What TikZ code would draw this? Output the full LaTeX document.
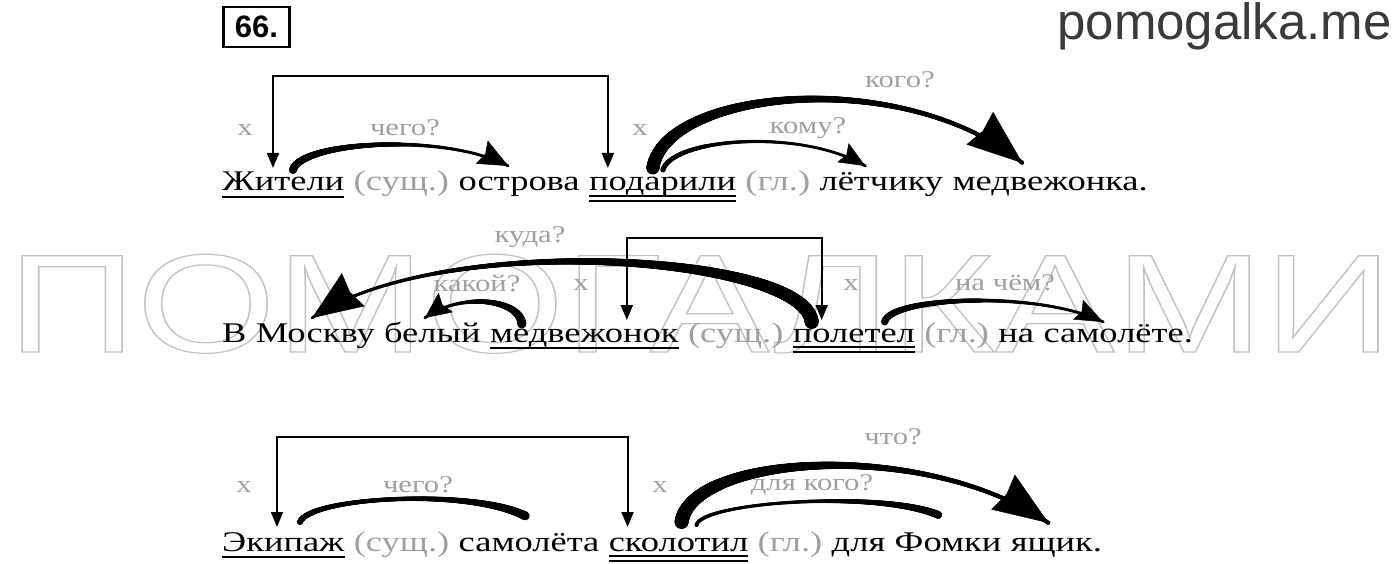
\documentclass[tikz,border=0pt]{standalone}
\usepackage{fontspec}
\setmainfont[FakeStretch=1.28]{Liberation Serif}
\newfontfamily\wmfont{Liberation Sans}
\usetikzlibrary{arrows.meta,decorations.markings,calc}
\definecolor{lbl}{RGB}{160,160,160}
\definecolor{site}{RGB}{58,58,58}
\definecolor{wm}{RGB}{195,195,195}
\tikzset{
  word/.style={inner sep=0pt, anchor=base west, font=\fontsize{28.5}{34}\selectfont},
  gw/.style={word, text=lbl},
  lab/.style={inner sep=0pt, text=lbl, font=\fontsize{24}{28}\selectfont},
  ul/.style={line width=2pt},
  brk/.style={line width=2pt, {Triangle[length=15pt,width=12pt]}-{Triangle[length=15pt,width=12pt]}},
  taper/.style n args={3}{
    postaction={decorate},
    decoration={markings,
      mark=between positions 0 and 1 step 0.5pt with {
        \pgfmathsetmacro\tapt{\pgfkeysvalueof{/pgf/decoration/mark info/distance from start}/\pgfdecoratedpathlength}
        \pgfmathsetmacro\tapw{#1*(1-\tapt)^2+2*#2*\tapt*(1-\tapt)+#3*\tapt^2}
        \fill (0,0) circle[radius=\tapw/2*1pt];
      }
    }
  },
  head/.style n args={2}{line width=0.5pt, -{Stealth[length=#1pt,width=#2pt,inset=4pt]}}
}
\begin{document}
\begin{tikzpicture}[x=1pt,y=-1pt]
\useasboundingbox (0,0) rectangle (1400,564);
\fill[white] (0,0) rectangle (1400,564);

% watermark
\node[inner sep=0pt, anchor=base, text=wm, font=\wmfont\fontsize{140}{150}\selectfont, xscale=1.28] (wm) at (700,352)
  {\special{pdf:literal direct 1 Tr 1.2 w}ПОМОГАЛКАМИ\special{pdf:literal direct 0 Tr}};

% header
\node[draw, line width=2.5pt, inner sep=0pt, minimum width=66pt, minimum height=40pt,
      font=\wmfont\bfseries\fontsize{31}{36}\selectfont] (num) at (256.5,27) {66.};
\node[anchor=base east, inner sep=0pt, text=site, font=\wmfont\fontsize{51}{56}\selectfont] (site) at (1392,40) {pomogalka.me};

% ---------- line 1 ----------
\node[word] (w11) at (222,191) {Жители};
\node[gw] (w12) at ($(w11.base east)+(9,0)$) {(сущ.)};
\node[word] (w13) at ($(w12.base east)+(9,0)$) {острова};
\node[word] (w14) at ($(w13.base east)+(9,0)$) {подарили};
\node[gw] (w15) at ($(w14.base east)+(9,0)$) {(гл.)};
\node[word] (w16) at ($(w15.base east)+(9,0)$) {лётчику};
\node[word] (w17) at ($(w16.base east)+(9,0)$) {медвежонка.};
\draw[ul] ($(w11.base west)+(0,6)$) -- ($(w11.base east)+(0,6)$);
\draw[ul] ($(w14.base west)+(0,5)$) -- ($(w14.base east)+(0,5)$);
\draw[ul] ($(w14.base west)+(0,10)$) -- ($(w14.base east)+(0,10)$);

\coordinate (b1l) at ($(w11.base west)+(51,-23)$);
\coordinate (b1r) at ($(w14.base west)+(19,-23)$);
\draw[brk] (b1l) -- ++(0,-92) -| (b1r);

\node[lab] (x11) at (245,130) {х};
\node[lab] (x12) at (640,130) {х};
\node[lab] (q11) at (405,128) {чего?};
\node[lab] (q12) at (808,128) {кому?};
\node[lab] (q13) at (900,80) {кого?};

\coordinate (a11s) at ($(w11.base west)+(71,-21)$);
\coordinate (a11e) at ($(w13.base west)+(50,-25)$);
\coordinate (a11c) at ($(a11e)+(-65,-34)$);
\path[taper={8}{2.5}{3}] (a11s) .. controls +(7,-28) and (a11c) .. (a11e);
\draw[head={30}{26}] ($(a11e)!2pt!(a11c)$) -- (a11e);

\coordinate (a12s) at ($(w14.base west)+(74,-21)$);
\coordinate (a12e) at ($(w16.base west)+(46,-25)$);
\coordinate (a12c) at ($(a12e)+(-64,-38)$);
\path[taper={5}{2.5}{3}] (a12s) .. controls +(10,-32) and (a12c) .. (a12e);
\draw[head={26}{22}] ($(a12e)!2pt!(a12c)$) -- (a12e);

\coordinate (a13s) at ($(w14.base west)+(64,-23)$);
\coordinate (a13e) at ($(w17.base west)+(70,-28)$);
\coordinate (a13c) at ($(a13e)+(-120,-98)$);
\path[taper={13}{4}{4}] (a13s) .. controls +(12,-78) and (a13c) .. (a13e);
\draw[head={55}{42}] ($(a13e)!2pt!(a13c)$) -- (a13e);

% ---------- line 2 ----------
\node[word] (w21) at (222,342) {В};
\node[word] (w22) at ($(w21.base east)+(9,0)$) {Москву};
\node[word] (w23) at ($(w22.base east)+(9,0)$) {белый};
\node[word] (w24) at ($(w23.base east)+(9,0)$) {медвежонок};
\node[gw] (w25) at ($(w24.base east)+(9,0)$) {(сущ.)};
\node[word] (w26) at ($(w25.base east)+(9,0)$) {полетел};
\node[gw] (w27) at ($(w26.base east)+(9,0)$) {(гл.)};
\node[word] (w28) at ($(w27.base east)+(9,0)$) {на};
\node[word] (w29) at ($(w28.base east)+(9,0)$) {самолёте.};
\draw[ul] ($(w24.base west)+(0,6)$) -- ($(w24.base east)+(0,6)$);
\draw[ul] ($(w26.base west)+(0,5)$) -- ($(w26.base east)+(0,5)$);
\draw[ul] ($(w26.base west)+(0,10)$) -- ($(w26.base east)+(0,10)$);

\coordinate (b2l) at ($(w24.base west)+(137,-22)$);
\coordinate (b2r) at ($(w26.base west)+(29,-22)$);
\draw[brk] (b2l) -- ++(0,-82) -| (b2r);

\node[lab] (q21) at (530,237) {куда?};
\node[lab] (q22) at (477,283) {какой?};
\node[lab] (x21) at (581,285) {х};
\node[lab] (x22) at (851,285) {х};
\node[lab] (q23) at (1005,283) {на чём?};

\coordinate (a21s) at ($(w26.base west)+(19,-20)$);
\coordinate (a21e) at ($(w21.base west)+(90,-24)$);
\coordinate (a21c) at ($(a21e)+(128,-88)$);
\path[taper={14}{3.5}{3}] (a21s) .. controls +(-7,-67) and (a21c) .. (a21e);
\draw[head={50}{40}] ($(a21e)!2pt!(a21c)$) -- (a21e);

\coordinate (a22s) at ($(w24.base west)+(32,-18)$);
\coordinate (a22e) at ($(w24.base west)+(-65,-24)$);
\coordinate (a22c) at ($(a22e)+(35,-26)$);
\path[taper={9}{2.5}{3}] (a22s) .. controls +(-2,-25) and (a22c) .. (a22e);
\draw[head={26}{24}] ($(a22e)!2pt!(a22c)$) -- (a22e);

\coordinate (a23s) at ($(w26.base west)+(92,-20)$);
\coordinate (a23e) at ($(w28.base west)+(105,-20)$);
\coordinate (a23c) at ($(a23e)+(-65,-32)$);
\path[taper={7}{2.5}{3}] (a23s) .. controls +(5,-25) and (a23c) .. (a23e);
\draw[head={28}{22}] ($(a23e)!2pt!(a23c)$) -- (a23e);

% ---------- line 3 ----------
\node[word] (w31) at (222,551) {Экипаж};
\node[gw] (w32) at ($(w31.base east)+(9,0)$) {(сущ.)};
\node[word] (w33) at ($(w32.base east)+(9,0)$) {самолёта};
\node[word] (w34) at ($(w33.base east)+(9,0)$) {сколотил};
\node[gw] (w35) at ($(w34.base east)+(9,0)$) {(гл.)};
\node[word] (w36) at ($(w35.base east)+(9,0)$) {для};
\node[word] (w37) at ($(w36.base east)+(9,0)$) {Фомки};
\node[word] (w38) at ($(w37.base east)+(9,0)$) {ящик.};
\draw[ul] ($(w31.base west)+(0,6)$) -- ($(w31.base east)+(0,6)$);
\draw[ul] ($(w34.base west)+(0,5)$) -- ($(w34.base east)+(0,5)$);
\draw[ul] ($(w34.base west)+(0,10)$) -- ($(w34.base east)+(0,10)$);

\coordinate (b3l) at ($(w31.base west)+(55,-24)$);
\coordinate (b3r) at ($(w34.base west)+(19,-24)$);
\draw[brk] (b3l) -- ++(0,-90) -| (b3r);

\node[lab] (x31) at (244,487) {х};
\node[lab] (q31) at (418,485) {чего?};
\node[lab] (x32) at (660,487) {х};
\node[lab] (q32) at (812,485) {для кого?};
\node[lab] (q33) at (893,437) {что?};

\coordinate (a31s) at ($(w31.base west)+(78,-29)$);
\coordinate (a31e) at ($(w33.base west)+(67,-35)$);
\path[taper={6}{1.5}{9}] (a31s) .. controls +(10,-25) and +(-55,-28) .. (a31e);

\coordinate (a32s) at ($(w34.base west)+(88,-26)$);
\coordinate (a32e) at ($(w34.base west)+(330,-36)$);
\path[taper={4}{1.5}{8}] (a32s) .. controls +(5,-23) and +(-59,-25) .. (a32e);

\coordinate (a33s) at ($(w34.base west)+(73,-29)$);
\coordinate (a33e) at ($(w34.base west)+(440,-28)$);
\coordinate (a33c) at ($(a33e)+(-125,-85)$);
\path[taper={14}{4}{4}] (a33s) .. controls +(10,-67) and (a33c) .. (a33e);
\draw[head={55}{42}] ($(a33e)!2pt!(a33c)$) -- (a33e);
\end{tikzpicture}
\end{document}
